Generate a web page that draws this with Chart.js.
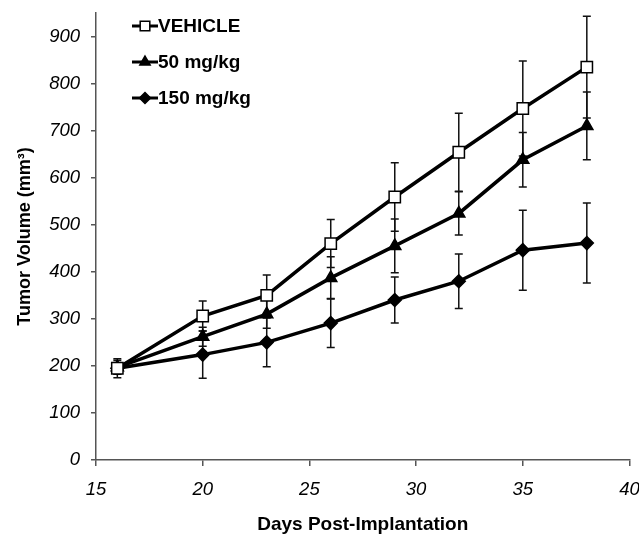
<!DOCTYPE html>
<html>
<head>
<meta charset="utf-8">
<script src="https://cdn.jsdelivr.net/npm/chart.js@4/dist/chart.umd.min.js"></script>
<style>
  html, body { margin: 0; padding: 0; background: #fff; }
  #wrap { width: 639px; height: 534px; }
</style>
</head>
<body>
<div id="wrap"><canvas id="myChart" width="639" height="534"></canvas></div>
<script>
// data
var days = [16, 20, 23, 26, 29, 32, 35, 38];
var vehicle = [195, 306, 350, 460, 559, 654, 747, 835];
var vehicleErr = [20, 32, 43, 51, 73, 83, 101, 108];
var mg50 = [197, 262, 310, 387, 455, 524, 638, 710];
var mg50Err = [15, 20, 30, 45, 57, 46, 58, 72];
var mg150 = [195, 224, 250, 291, 340, 380, 446, 461];
var mg150Err = [12, 50, 52, 52, 49, 58, 85, 85];
var seriesNames = ['VEHICLE', '50 mg/kg', '150 mg/kg'];
var yTicks = [0, 100, 200, 300, 400, 500, 600, 700, 800, 900];

function pts(ys) {
    return days.map(function (d, i) { return { x: d, y: ys[i] }; });
}

var errors = [vehicleErr, mg50Err, mg150Err];
var font = "'Liberation Sans', Arial, sans-serif";

// error bars, drawn under the lines
var errorBars = {
    id: 'errorBars',
    beforeDatasetsDraw: function (chart) {
        var ctx = chart.ctx;
        var xs = chart.scales.x, ys = chart.scales.y;
        ctx.save();
        ctx.strokeStyle = '#111';
        ctx.lineWidth = 1.5;
        chart.data.datasets.forEach(function (ds, k) {
            ds.data.forEach(function (p, i) {
                var e = errors[k][i];
                var px = xs.getPixelForValue(p.x);
                var top = ys.getPixelForValue(p.y + e);
                var bot = ys.getPixelForValue(p.y - e);
                ctx.beginPath();
                ctx.moveTo(px, top); ctx.lineTo(px, bot);
                ctx.moveTo(px - 4, top); ctx.lineTo(px + 4, top);
                ctx.moveTo(px - 4, bot); ctx.lineTo(px + 4, bot);
                ctx.stroke();
            });
        });
        ctx.restore();
    }
};

// legend inside the plot, top left
var insideLegend = {
    id: 'insideLegend',
    afterDraw: function (chart) {
        var ctx = chart.ctx;
        ctx.save();
        chart.data.datasets.forEach(function (ds, k) {
            var y = 26 + k * 36;
            var x0 = 132, x1 = 158;
            ctx.strokeStyle = '#000';
            ctx.lineWidth = 3;
            ctx.beginPath();
            ctx.moveTo(x0, y); ctx.lineTo(x1, y);
            ctx.stroke();
            ctx.fillStyle = ds.pointBackgroundColor;
            ctx.lineWidth = ds.pointBorderWidth;
            Chart.helpers.drawPoint(ctx, {
                pointStyle: ds.pointStyle,
                radius: ds.pointRadius * 0.85,
                borderWidth: ds.pointBorderWidth
            }, 145, y);
            ctx.fillStyle = '#000';
            ctx.font = 'bold 19px ' + font;
            ctx.textBaseline = 'middle';
            ctx.fillText(seriesNames[k], x1, y + 1);
        });
        ctx.restore();
    }
};

function makeSet(label, ys, style, fill, r) {
    return {
        label: label,
        data: pts(ys),
        borderColor: '#000',
        borderWidth: 3.5,
        pointStyle: style,
        pointRadius: r,
        pointBackgroundColor: fill,
        pointBorderColor: '#000',
        pointBorderWidth: 1.5,
        tension: 0
    };
}

var ctx = document.getElementById('myChart');
var myChart = new Chart(ctx, {
    type: 'line',
    data: {
        datasets: [
            makeSet(seriesNames[0], vehicle, 'rect', '#fff', 8),
            makeSet(seriesNames[1], mg50, 'triangle', '#000', 7),
            makeSet(seriesNames[2], mg150, 'rectRot', '#000', 6.5)
        ]
    },
    options: {
        responsive: false,
        animation: false,
        layout: { padding: { left: 0, right: 9, top: 13, bottom: 0 } },
        plugins: {
            legend: { display: false },
            tooltip: { enabled: false }
        },
        scales: {
            x: {
                type: 'linear',
                min: 15, max: 40,
                border: { color: '#555', width: 1.5 },
                grid: { drawOnChartArea: false, color: '#555', tickLength: 6, lineWidth: 1.5 },
                ticks: {
                    stepSize: 5, padding: 13, color: '#000',
                    font: { family: font, size: 18.5, style: 'italic' }
                },
                title: {
                    display: true, text: 'Days Post-Implantation', color: '#000',
                    font: { family: font, size: 19, weight: 'bold', lineHeight: 1 },
                    padding: { top: 10, bottom: 0 }
                },
                afterFit: function (scale) {
                    scale.height = 74;
                    scale.paddingLeft = 0;
                    scale.paddingRight = 0;
                }
            },
            y: {
                min: 0, max: 950,
                border: { color: '#555', width: 1.5 },
                grid: { drawOnChartArea: false, color: '#555', tickLength: 5, lineWidth: 1.5 },
                afterBuildTicks: function (axis) {
                    axis.ticks = yTicks.map(function (v) { return { value: v }; });
                },
                ticks: {
                    padding: 11, color: '#000',
                    font: { family: font, size: 18.5, style: 'italic' }
                },
                title: {
                    display: true, text: 'Tumor Volume (mm³)', color: '#000',
                    font: { family: font, size: 18, weight: 'bold' },
                    padding: { top: 14, bottom: 0 }
                },
                afterFit: function (scale) {
                    scale.width = 96;
                    scale.paddingTop = 0;
                    scale.paddingBottom = 0;
                }
            }
        }
    },
    plugins: [errorBars, insideLegend]
});
</script>
</body>
</html>
